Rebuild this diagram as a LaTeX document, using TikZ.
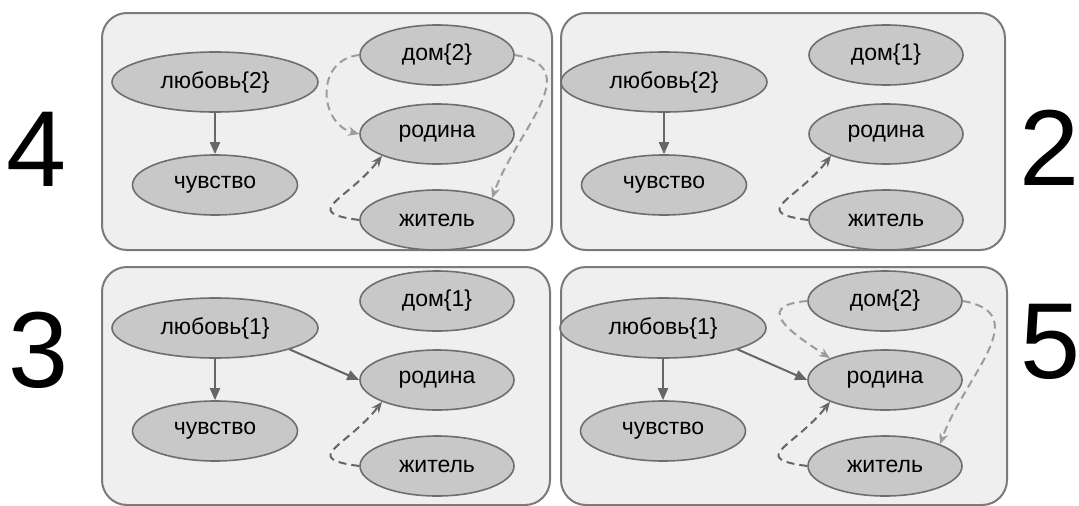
\documentclass[tikz,border=0pt]{standalone}
\usepackage{fontspec}
\setmainfont{Liberation Sans}
\usetikzlibrary{arrows.meta}
\usetikzlibrary{shapes.geometric}

\definecolor{panelfill}{HTML}{EFEFEF}
\definecolor{panelline}{HTML}{7A7A7A}
\definecolor{wordfill}{HTML}{C8C8C8}
\definecolor{wordline}{HTML}{6E6E6E}
\definecolor{linkdark}{HTML}{666666}
\definecolor{linklight}{HTML}{9C9C9C}

\begin{document}
\begin{tikzpicture}[x=1pt,y=1pt,
    panel/.style={draw=panelline,fill=panelfill,line width=2pt,rounded corners=25pt},
    word/.style={ellipse,draw=wordline,fill=wordfill,line width=1.6pt,
      minimum width=154pt,minimum height=60pt,inner sep=0pt,
      font=\fontsize{23}{26}\selectfont},
    num/.style={font=\fontsize{108}{110}\selectfont,inner sep=0pt},
    link/.style={draw=linkdark,line width=2pt,-{Triangle[length=12pt,width=10pt]}},
    back/.style={draw=linkdark,line width=2pt,dash pattern=on 8pt off 5pt,
      -{Stealth[length=11pt,width=9pt]}},
    home/.style={draw=linklight,line width=2pt,dash pattern=on 8pt off 5pt,
      -{Stealth[length=11pt,width=9pt]}}]

      \useasboundingbox (0,0) rectangle (1079,-506);

      % Panels
      \foreach \xa/\ya/\xb/\yb in {102/13/552/250, 561/13/1005/250, 102/267/550/505, 561/267/1007/505}
      {
        \draw[panel] (\xa,-\ya) rectangle (\xb,-\yb);
      }

      % Words
      \foreach \n/\dx/\dy/\l/\d in {4/0/0/2/2, 2/449/0/2/1, 3/0/246/1/1, 5/448/246/1/2}
      {
        \node[word,minimum width=206pt] (lubov\n) at (215+\dx,-82-\dy) {любовь\{\l\}};
        \node[word,minimum width=165pt] (chuvstvo\n) at (215+\dx,-185-\dy) {чувство};
        \node[word] (dom\n) at (437+\dx,-55-\dy) {дом\{\d\}};
        \node[word] (rodina\n) at (437+\dx,-134-\dy) {родина};
        \node[word] (zhitel\n) at (437+\dx,-220-\dy) {житель};

        \draw[link] (lubov\n) -- (chuvstvo\n);
        \draw[back] (zhitel\n.west) .. controls +(-60,8) and +(-35,-45) .. (rodina\n.south west);
      }

      % Numbers
      \node[num] (n4) at (37,-149) {4};
      \node[num] (n2) at (1050,-148) {2};
      \node[num] (n3) at (39,-350) {3};
      \node[num] (n5) at (1051,-342) {5};

      % Extra links
      \draw[link] (lubov3.-16) -- (rodina3.west);
      \draw[link] (lubov5.-16) -- (rodina5.west);

      \draw[home] (dom4.west) .. controls +(-45,-5) and +(-40,10) .. (rodina4.west);
      \draw[home] (dom4.east) to[out=-10,in=70,looseness=1.3] (zhitel4.north east);
      \draw[home] (dom5.west) .. controls +(-60,-5) and +(-30,20) .. (rodina5.north west);
      \draw[home] (dom5.east) to[out=-10,in=70,looseness=1.3] (zhitel5.north east);

\end{tikzpicture}
\end{document}
